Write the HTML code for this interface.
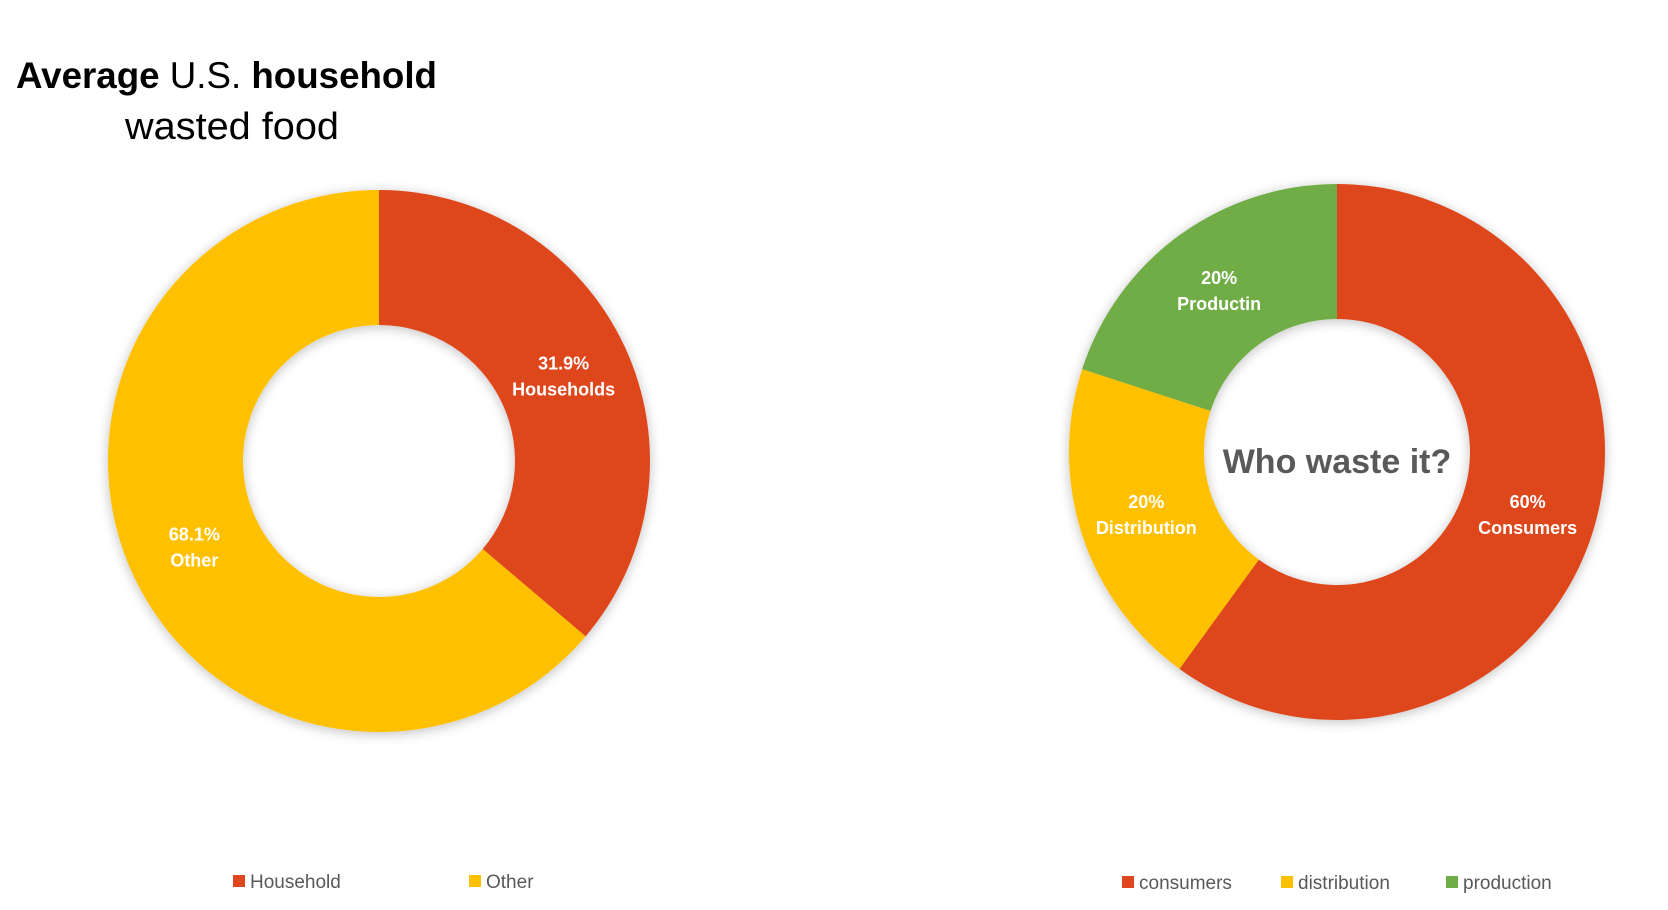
<!DOCTYPE html>
<html><head><meta charset="utf-8"><style>
html,body{margin:0;padding:0;background:#fff;width:1668px;height:910px;overflow:hidden;font-family:"Liberation Sans",sans-serif}
</style></head><body>
<svg width="1668" height="910" viewBox="0 0 1668 910">
<defs><filter id="sh" x="-20%" y="-20%" width="140%" height="140%"><feGaussianBlur in="SourceAlpha" stdDeviation="6"/><feOffset dx="0" dy="2"/><feComponentTransfer><feFuncA type="linear" slope="0.25"/></feComponentTransfer><feMerge><feMergeNode/><feMergeNode in="SourceGraphic"/></feMerge></filter></defs>
<text x="16" y="88" font-size="37" fill="#000" textLength="421" lengthAdjust="spacingAndGlyphs"><tspan font-weight="bold">Average</tspan> U.S. <tspan font-weight="bold">household</tspan></text>
<text x="125" y="139" font-size="38" fill="#000" textLength="214" lengthAdjust="spacingAndGlyphs">wasted food</text>
<g id="left" filter="url(#sh)"></g>
<g id="right" filter="url(#sh)"></g>
<g id="labels"></g>
<text x="1337" y="473" font-size="34" font-weight="bold" fill="#595959" text-anchor="middle">Who waste it?</text>
<g id="legends"></g>
</svg>
<script>
const leftCats=["Household","Other"];
const leftVals=[36.2,63.8];
const leftPct=["31.9%","68.1%"];
const leftLabels=["Households","Other"];
const rightCats=["consumers","distribution","production"];
const rightVals=[60,20,20];
const rightPct=["60%","20%","20%"];
const rightLabels=["Consumers","Distribution","Productin"];
const NS="http://www.w3.org/2000/svg";
const colL=["#DE471E","#FFC000"], colR=["#DE471E","#FFC000","#70AD47"];
function arc(cx,cy,R,r,a0,a1){
 const p=(rad,a)=>[cx+rad*Math.sin(a),cy-rad*Math.cos(a)];
 const lg=(a1-a0)>Math.PI?1:0;
 const [x0,y0]=p(R,a0),[x1,y1]=p(R,a1),[x2,y2]=p(r,a1),[x3,y3]=p(r,a0);
 return `M${x0},${y0}A${R},${R} 0 ${lg} 1 ${x1},${y1}L${x2},${y2}A${r},${r} 0 ${lg} 0 ${x3},${y3}Z`;
}
function donut(gid,cx,cy,R,r,vals,cats,pct,labs,cols){
 const g=document.getElementById(gid), lg=document.getElementById('labels');
 const tot=vals.reduce((a,b)=>a+b,0); let a=0;
 vals.forEach((v,i)=>{
  const a1=a+v/tot*2*Math.PI;
  const p=document.createElementNS(NS,'path');
  p.setAttribute('d',arc(cx,cy,R,r,a,a1));p.setAttribute('fill',cols[i]);
  
  
  g.appendChild(p);
  const m=(a+a1)/2, rr=(R+r)/2;
  const lx=cx+rr*Math.sin(m), ly=cy-rr*Math.cos(m);
  const t=document.createElementNS(NS,'text');
  t.setAttribute('x',lx);t.setAttribute('y',ly-6);t.setAttribute('text-anchor','middle');
  t.setAttribute('font-size','18');t.setAttribute('font-weight','bold');t.setAttribute('fill','#fff');
  
  
  t.innerHTML=`<tspan x="${lx}">${pct[i]}</tspan><tspan x="${lx}" dy="26">${labs[i]}</tspan>`;
  lg.appendChild(t);
  a=a1;
 });
}
donut('left',379,461,271,136,leftVals,leftCats,leftPct,leftLabels,colL);
donut('right',1337,452,268,133,rightVals,rightCats,rightPct,rightLabels,colR);
function legend(cats,cols,xs,y){
 const L=document.getElementById('legends');
 cats.forEach((c,i)=>{
  const gg=document.createElementNS(NS,'g');
  
  
  gg.innerHTML=`<rect x="${xs[i]}" y="${y-13}" width="12" height="12" fill="${cols[i]}"/><text x="${xs[i]+17}" y="${y}" font-size="19" fill="#595959">${c}</text>`;
  L.appendChild(gg);
 });
}
legend(leftCats,colL,[233,469],888);
legend(rightCats,colR,[1122,1281,1446],889);
</script>
</body></html>
